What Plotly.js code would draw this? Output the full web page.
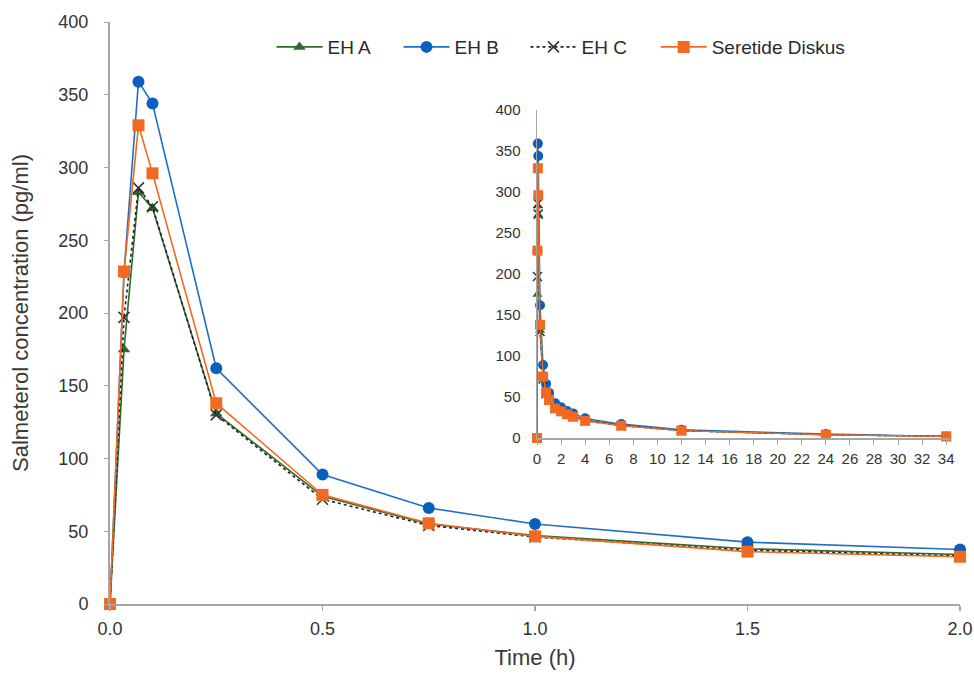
<!DOCTYPE html>
<html>
<head>
<meta charset="utf-8">
<script src="https://cdn.plot.ly/plotly-3.0.1.min.js"></script>
<style>html,body{margin:0;padding:0;background:#fff;}#chart{width:974px;height:677px;}</style>
</head>
<body>
<div id="chart"></div>
<script>
// Time points (h)
const timeH = [0, 0.033, 0.067, 0.1, 0.25, 0.5, 0.75, 1, 1.5, 2, 2.5, 3, 4, 7, 12, 24, 34];
// Salmeterol concentration (pg/ml)
const ehA = [0, 175, 283, 272, 131, 74, 55, 47, 38, 34, 30, 27, 22, 16, 9, 4, 2];
const ehB = [0, 228, 359, 344, 162, 89, 66, 55, 42.5, 37.5, 33, 30, 24, 17, 10, 5, 2];
const ehC = [0, 197, 286, 273, 130, 72, 54, 46, 37, 33, 29, 26, 21, 15, 9, 4, 2];
const seretide = [0, 228.5, 329, 296, 138, 75, 55.5, 46.5, 36, 32.5, 29, 26, 21, 15, 9, 4, 2];
const seriesNames = ["EH A", "EH B", "EH C", "Seretide Diskus"];
const mainTicks = [0, 0.5, 1.0, 1.5, 2.0];
const mainTickText = ["0.0", "0.5", "1.0", "1.5", "2.0"];
const insetTicks = [0,2,4,6,8,10,12,14,16,18,20,22,24,26,28,30,32,34];

const styles = [
  {line:{color:"#2f6b2f", width:1.6, dash:"solid"}, marker:{symbol:"triangle-up", color:"#2f6b2f", size:11}},
  {line:{color:"#1f6fc5", width:1.6, dash:"solid"}, marker:{symbol:"circle", color:"#0b5fbd", size:12}},
  {line:{color:"#222222", width:1.6, dash:"dot"}, marker:{symbol:"x-thin-open", color:"#333333", size:11, line:{width:1.5, color:"#333333"}}},
  {line:{color:"#f26a21", width:1.6, dash:"solid"}, marker:{symbol:"square", color:"#f26a21", size:12}}
];
const allSeries = [ehA, ehB, ehC, seretide];
const legendIds = ["legend", "legend", "legend", "legend2"];

const traces = [];
allSeries.forEach((vals, i) => {
  const xs = [], ys = [];
  timeH.forEach((t, k) => { if (t <= 2) { xs.push(t); ys.push(vals[k]); } });
  traces.push({
    type: "scatter", mode: "lines+markers", name: seriesNames[i], legend: legendIds[i],
    x: xs, y: ys, xaxis: "x", yaxis: "y", cliponaxis: false,
    line: styles[i].line, marker: styles[i].marker, showlegend: true
  });
});
allSeries.forEach((vals, i) => {
  const m = JSON.parse(JSON.stringify(styles[i].marker));
  m.size = Math.round(m.size * 0.8);
  traces.push({
    type: "scatter", mode: "lines+markers", name: seriesNames[i],
    x: timeH, y: vals, xaxis: "x2", yaxis: "y2", cliponaxis: false,
    line: Object.assign({}, styles[i].line, {width: 1.4}), marker: m, showlegend: false
  });
});

const fontFam = "Liberation Sans, Arial, sans-serif";
const legendCommon = {orientation: "h", y: 0.957, yanchor: "middle", xanchor: "left",
  itemwidth: 46, font: {size: 19, color: "#2a2a2a"}, bgcolor: "rgba(0,0,0,0)", traceorder: "normal"};
const layout = {
  width: 974, height: 677,
  margin: {l: 110, r: 14, t: 22, b: 73},
  paper_bgcolor: "#fff", plot_bgcolor: "rgba(0,0,0,0)",
  font: {family: fontFam, size: 16, color: "#3a3a3a"},
  showlegend: true,
  legend: Object.assign({}, legendCommon, {x: 0.19, entrywidth: 66, entrywidthmode: "pixels"}),
  legend2: Object.assign({}, legendCommon, {x: 0.642}),
  xaxis: {
    domain: [0, 1], range: [0, 2], tickvals: mainTicks, ticktext: mainTickText,
    showgrid: false, zeroline: false, showline: true, linecolor: "#a6a6a6", linewidth: 2,
    ticks: "outside", ticklen: 5, tickcolor: "#a6a6a6", tickwidth: 1.5,
    tickfont: {size: 18, color: "#333"}, ticklabelstandoff: 2,
    title: {text: "Time (h)", font: {size: 22, color: "#3a3a3a"}, standoff: 12}
  },
  yaxis: {
    domain: [0, 1], range: [0, 400], dtick: 50,
    showgrid: false, zeroline: false, showline: true, linecolor: "#a6a6a6", linewidth: 2,
    ticks: "outside", ticklen: 4, tickcolor: "#a6a6a6",
    tickfont: {size: 18, color: "#333"}, ticklabelstandoff: 12,
    title: {text: "Salmeterol concentration (pg/ml)", font: {size: 22, color: "#3a3a3a"}, standoff: 24}
  },
  xaxis2: {
    domain: [0.5024, 0.988], range: [0, 34.3], anchor: "y2", tickvals: insetTicks,
    showgrid: false, zeroline: false, showline: true, linecolor: "#a6a6a6", linewidth: 1.5,
    ticks: "outside", ticklen: 5, tickcolor: "#a6a6a6",
    tickfont: {size: 15, color: "#333"}, ticklabelstandoff: 1
  },
  yaxis2: {
    domain: [0.2852, 0.8488], range: [0, 400], dtick: 50, anchor: "x2",
    showgrid: false, zeroline: false, showline: true, linecolor: "#a6a6a6", linewidth: 1.5,
    ticks: "", tickfont: {size: 15, color: "#333"}, ticklabelstandoff: 12
  }
};
Plotly.newPlot("chart", traces, layout, {displayModeBar: false, staticPlot: true});
</script>
</body>
</html>
